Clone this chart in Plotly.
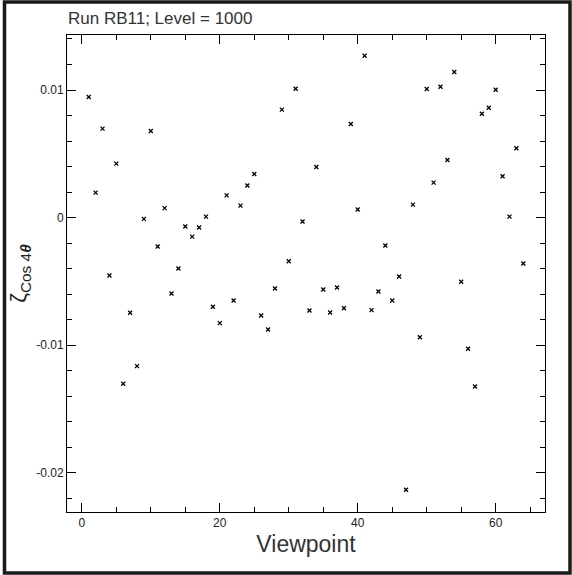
import plotly.graph_objects as go

# Viewpoint index and the cos(4θ) coefficient measured at each viewpoint
viewpoints = list(range(1, 65))
zeta_cos4 = [
    0.00945, 0.00196, 0.00697, -0.00454, 0.00423, -0.01302, -0.00746, -0.01164,
    -0.00010, 0.00679, -0.00227, 0.00074, -0.00595, -0.00399, -0.00070, -0.00149,
    -0.00078, 0.00008, -0.00699, -0.00827, 0.00174, -0.00650, 0.00094, 0.00251,
    0.00342, -0.00767, -0.00877, -0.00556, 0.00846, -0.00342, 0.01010, -0.00031,
    -0.00728, 0.00397, -0.00564, -0.00744, -0.00548, -0.00710, 0.00734, 0.00063,
    0.01269, -0.00725, -0.00579, -0.00219, -0.00650, -0.00462, -0.02132, 0.00102,
    -0.00937, 0.01008, 0.00274, 0.01026, 0.00452, 0.01141, -0.00503, -0.01028,
    -0.01323, 0.00814, 0.00861, 0.01002, 0.00324, 0.00008, 0.00543, -0.00360,
]

x_tick_vals = [0, 20, 40, 60]
x_tick_text = ["0", "20", "40", "60"]
y_tick_vals = [0.01, 0.0, -0.01, -0.02]
y_tick_text = ["0.01", "0", "-0.01", "-0.02"]

title_text = "Run RB11; Level = 1000"
x_title = "Viewpoint"
y_title = "ζ<sub>Cos 4<b><i>θ</i></b></sub>"

FONT = "Liberation Sans, Arial, Helvetica, sans-serif"

fig = go.Figure()
fig.add_trace(go.Scatter(
    x=viewpoints,
    y=zeta_cos4,
    mode="markers",
    marker=dict(symbol="x-thin", size=4, color="black",
                line=dict(color="black", width=1.3)),
    showlegend=False,
    hoverinfo="x+y",
))

axis_common = dict(
    showline=True, linecolor="black", linewidth=1, mirror="allticks",
    ticks="inside", tickcolor="black", tickwidth=1, ticklen=9,
    showgrid=False, zeroline=False,
    tickfont=dict(family=FONT, size=12, color="#222"),
)

fig.update_xaxes(
    **axis_common,
    range=[-2.15, 67.15],
    tickmode="array", tickvals=x_tick_vals, ticktext=x_tick_text,
    minor=dict(dtick=5, tick0=0, ticks="inside", ticklen=5,
               tickcolor="black", tickwidth=1, showgrid=False),
    title=dict(text=x_title, font=dict(family=FONT, size=23, color="#333"),
               standoff=6),
)
fig.update_yaxes(
    **axis_common,
    range=[-0.02307, 0.01431],
    tickmode="array", tickvals=y_tick_vals, ticktext=y_tick_text,
    minor=dict(dtick=0.002, tick0=0, ticks="inside", ticklen=5,
               tickcolor="black", tickwidth=1, showgrid=False),
    title=dict(text=y_title, font=dict(family=FONT, size=22, color="#222"),
               standoff=3),
)

fig.update_layout(
    width=572, height=575,
    margin=dict(l=67, r=27, t=35, b=63),
    paper_bgcolor="white", plot_bgcolor="white",
    title=dict(text=title_text, xref="container", yref="container",
               x=68 / 572, xanchor="left", y=1 - 18 / 575, yanchor="middle",
               font=dict(family=FONT, size=17, color="#333")),
    shapes=[dict(type="rect", xref="paper", yref="paper",
                 x0=(4.5 - 67) / 478, x1=(570 - 67) / 478,
                 y0=(512 - 573) / 477, y1=(512 - 2) / 477,
                 line=dict(color="#1a1a1a", width=3.5), layer="above")],
)

fig.write_html("out.html")
